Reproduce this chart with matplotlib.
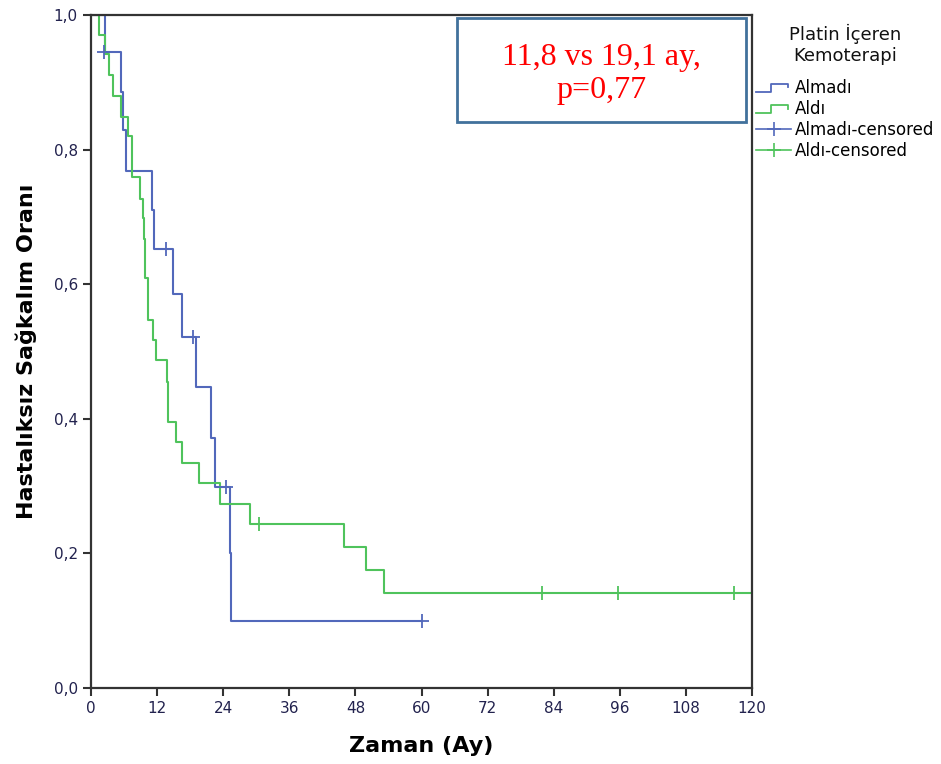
import matplotlib
matplotlib.use('Agg')
import matplotlib.pyplot as plt
from matplotlib.lines import Line2D
from matplotlib.patches import Rectangle
from matplotlib.legend_handler import HandlerBase

# 数据: Almadı (未接受) 组
almadi_t = [0, 2.6, 5.5, 5.75, 6.35, 11.0, 11.5, 14.9, 16.6, 19.05, 21.7, 22.5, 25.2, 25.5, 60]
almadi_s = [1.0, 0.945, 0.886, 0.829, 0.769, 0.710, 0.652, 0.586, 0.521, 0.448, 0.372, 0.299, 0.200, 0.100, 0.100]
almadi_cens_t = [2.4, 13.7, 18.6, 24.5, 60]
almadi_cens_s = [0.945, 0.652, 0.521, 0.299, 0.100]

# 数据: Aldı (接受) 组
aldi_t = [0, 1.5, 2.6, 3.2, 3.95, 5.5, 6.7, 7.45, 8.9, 9.5, 9.7, 9.8, 10.4, 11.3, 11.75,
          13.75, 13.9, 14.0, 15.4, 16.6, 19.65, 23.5, 28.9, 45.9, 49.9, 53.1, 120]
aldi_s = [1.0, 0.970, 0.942, 0.911, 0.880, 0.849, 0.820, 0.760, 0.727, 0.698, 0.667, 0.609, 0.547, 0.517, 0.487,
          0.455, 0.425, 0.395, 0.366, 0.335, 0.305, 0.274, 0.244, 0.210, 0.175, 0.141, 0.141]
aldi_cens_t = [30.5, 81.8, 95.6, 116.8]
aldi_cens_s = [0.244, 0.141, 0.141, 0.141]

x_ticks = [0, 12, 24, 36, 48, 60, 72, 84, 96, 108, 120]
y_ticks = [0.0, 0.2, 0.4, 0.6, 0.8, 1.0]
y_tick_labels = ['0,0', '0,2', '0,4', '0,6', '0,8', '1,0']

legend_title = 'Platin İçeren\nKemoterapi'
legend_labels = ['Almadı', 'Aldı', 'Almadı-censored', 'Aldı-censored']
note_text = '11,8 vs 19,1 ay,\np=0,77'

blue = '#5268bb'
green = '#4fc35c'
tick_color = '#22224e'


# 图例里的阶梯小图标
class StepHandler(HandlerBase):
    def create_artists(self, legend, orig_handle, xdescent, ydescent, width, height, fontsize, trans):
        w = width
        h = height
        x0 = -xdescent
        xs = [x0, x0 + 0.42 * w, x0 + 0.42 * w, x0 + 0.9 * w, x0 + 0.9 * w]
        ys = [0.1 * h, 0.1 * h, 0.75 * h, 0.75 * h, 0.45 * h]
        line = Line2D(xs, ys, color=orig_handle.get_color(), lw=1.3)
        line.set_transform(trans)
        return [line]


fig = plt.figure(figsize=(9.41, 7.64), dpi=100)
ax = fig.add_axes([0.0967, 0.0995, 0.7025, 0.8806])

ax.step(almadi_t, almadi_s, where='post', color=blue, lw=1.5)
ax.step(aldi_t, aldi_s, where='post', color=green, lw=1.5)
ax.plot(almadi_cens_t, almadi_cens_s, ls='none', marker='+', ms=10, mew=1.3, color=blue, clip_on=False)
ax.plot(aldi_cens_t, aldi_cens_s, ls='none', marker='+', ms=10, mew=1.3, color=green, clip_on=False)

ax.set_xlim(0, 120)
ax.set_ylim(0, 1)
ax.set_xticks(x_ticks)
ax.set_xticklabels([str(v) for v in x_ticks])
ax.set_yticks(y_ticks)
ax.set_yticklabels(y_tick_labels)
ax.tick_params(direction='out', length=6, width=1.5, colors='#333333', labelsize=11,
               labelcolor=tick_color)

for s in ax.spines.values():
    s.set_linewidth(1.6)
    s.set_color('#333333')

ax.set_xlabel('Zaman (Ay)', fontsize=16, fontweight='bold', labelpad=14)
ax.set_ylabel('Hastalıksız Sağkalım Oranı', fontsize=16, fontweight='bold', labelpad=12)

# p值说明框
ax.add_patch(Rectangle((0.554, 0.841), 0.437, 0.1545, transform=ax.transAxes,
                       fill=False, edgecolor='#41719c', lw=2, clip_on=False))
ax.text(0.772, 0.913, note_text, transform=ax.transAxes, ha='center', va='center',
        color='red', fontsize=23, family='Liberation Serif', linespacing=1.2)

# 图例标题单独写, 方便控制位置
fig.text(0.898, 0.942, legend_title, ha='center', va='center', fontsize=13,
         linespacing=1.2, color='#111111')

h1 = Line2D([], [], color=blue)
h2 = Line2D([], [], color=green)
h3 = Line2D([], [], color=blue, marker='+', ms=10, mew=1.2, lw=1.2)
h4 = Line2D([], [], color=green, marker='+', ms=10, mew=1.2, lw=1.2)
leg = fig.legend([h1, h2, h3, h4], legend_labels, loc='upper left',
                 bbox_to_anchor=(0.8035, 0.897), bbox_transform=fig.transFigure,
                 frameon=False, fontsize=12, borderpad=0, borderaxespad=0,
                 handlelength=2.1, handletextpad=0.2, labelspacing=0.19,
                 handler_map={h1: StepHandler(), h2: StepHandler()})

fig.savefig('out.png', dpi=100)
